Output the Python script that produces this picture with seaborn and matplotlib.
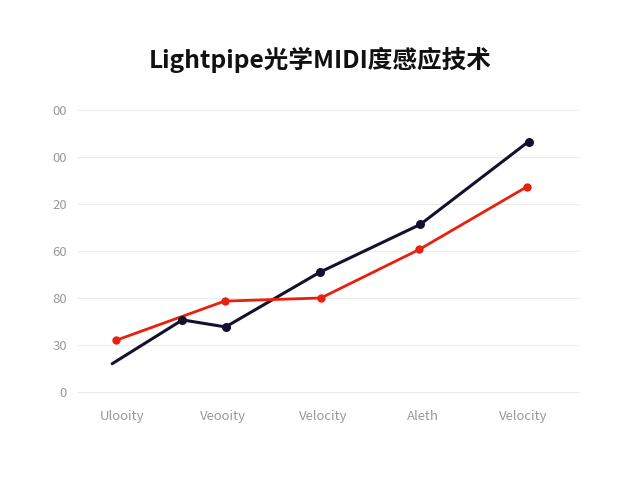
import matplotlib
matplotlib.use("Agg")
import matplotlib.pyplot as plt
import pandas as pd
import seaborn as sns

TITLE = "Lightpipe光学MIDI度感应技术"

# category labels as printed under the x axis
x_labels = ["Ulooity", "Veooity", "Velocity", "Aleth", "Velocity"]
x_pos = [0, 1, 2, 3, 4]

# y ticks and the text printed next to them
y_ticks = [0, 30, 60, 90, 120, 150, 180]
y_tick_labels = ["0", "30", "80", "60", "20", "00", "00"]

# red series
red_x = [-0.06, 1.02, 1.98, 2.96, 4.03]
red_y = [33, 58, 60, 91, 131]

# dark series (first point drawn without a marker)
dark_x = [-0.1, 0.6, 1.03, 1.97, 2.97, 4.05]
dark_y = [18, 46, 41.5, 76.5, 107, 160]

RED = "#e8200c"
DARK = "#12122e"


def main():
    sns.set_theme(style="whitegrid")
    plt.rcParams["font.family"] = ["Noto Sans CJK SC", "DejaVu Sans"]

    red_df = pd.DataFrame({"x": red_x, "y": red_y})
    dark_df = pd.DataFrame({"x": dark_x, "y": dark_y})

    fig = plt.figure(figsize=(6.4, 4.8), dpi=100)
    ax = fig.add_axes([0.122, 0.151, 0.784, 0.652])

    sns.lineplot(data=dark_df, x="x", y="y", ax=ax, color=DARK, linewidth=2.2)
    ax.scatter(dark_x[1:], dark_y[1:], color=DARK, s=30, zorder=3)
    sns.lineplot(data=red_df, x="x", y="y", ax=ax, color=RED, linewidth=2.0,
                 marker="o", markersize=6, markeredgewidth=0)

    ax.set_xlim(-0.44, 4.56)
    ax.set_ylim(-10, 190)
    ax.set_xticks(x_pos)
    ax.set_xticklabels(x_labels)
    ax.set_yticks(y_ticks)
    ax.set_yticklabels(y_tick_labels)
    ax.set_xlabel("")
    ax.set_ylabel("")
    ax.tick_params(axis="both", colors="#999999", labelsize=9.5, length=0)
    for lab in ax.get_xticklabels() + ax.get_yticklabels():
        lab.set_fontweight("light")
    ax.tick_params(axis="x", pad=2)
    ax.tick_params(axis="y", pad=8)
    ax.grid(axis="x", visible=False)
    ax.grid(axis="y", color="#ececec", linewidth=0.8)
    for s in ax.spines.values():
        s.set_visible(False)

    fig.text(0.5, 0.875, TITLE, ha="center", va="center",
             fontsize=17.7, fontweight="bold", color="#111111")

    fig.savefig("out.png", dpi=100, facecolor="white")
    plt.close(fig)


if __name__ == "__main__":
    main()
